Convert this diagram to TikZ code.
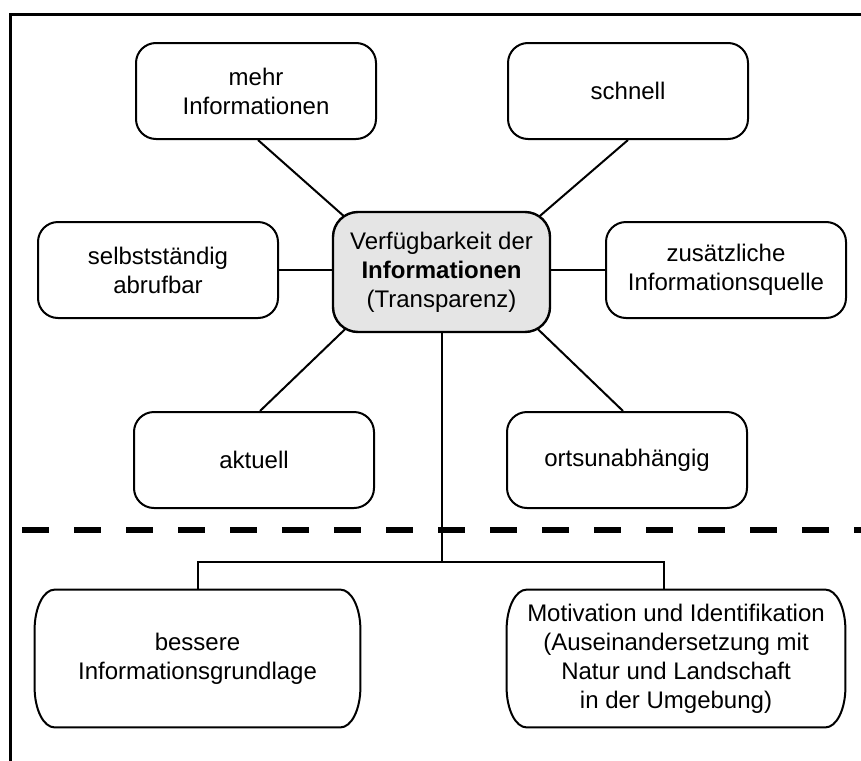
\documentclass[tikz,border=0pt]{standalone}
\usepackage{fontspec}
\setmainfont{Liberation Sans}
\usetikzlibrary{calc}
\usetikzlibrary{backgrounds}
\tikzset{txt/.style={font=\fontsize{12}{14.5}\selectfont, align=center, inner sep=0pt}}
\tikzset{pill/.style={txt, draw, line width=1pt, rounded corners=10pt, fill=white, minimum width=120pt, minimum height=48pt}}
\tikzset{hub/.style={txt, draw, line width=1.2pt, rounded corners=12.5pt, fill=gray!20, minimum width=108.5pt, minimum height=60pt}}
\tikzset{oval/.style={txt, fill=white, minimum height=68.5pt}}
\tikzset{link/.style={line width=1pt}}
\newcommand\ovalframe[1]{%
  \draw[line width=1pt] ([xshift=10pt]#1.north west) -- ([xshift=-10pt]#1.north east)
    arc[start angle=90, end angle=0, x radius=10pt, y radius=20pt]
    -- ([yshift=20pt]#1.south east)
    arc[start angle=0, end angle=-90, x radius=10pt, y radius=20pt]
    -- ([xshift=10pt]#1.south west)
    arc[start angle=270, end angle=180, x radius=10pt, y radius=20pt]
    -- ([yshift=-20pt]#1.north west)
    arc[start angle=180, end angle=90, x radius=10pt, y radius=20pt] -- cycle;}

\begin{document}
\begin{tikzpicture}[x=0.5pt, y=-0.5pt]
    \useasboundingbox (0, 0) rectangle (861, 760);
    \clip (0, 0) rectangle (861, 760);
    % frame, cut off at right and bottom
    \draw[line width=1.5pt] (10.5, 800)--(10.5, 14)--(900, 14);
    \node[hub] (ctr) at (441.5, 272) {Verfügbarkeit der\\\textbf{Informationen}\\(Transparenz)};
    \node[pill] (mehr) at (256, 91) {mehr\\Informationen};
    \node[pill] (schnell) at (628, 91) {schnell};
    \node[pill] (selbst) at (158, 270) {selbstständig\\abrufbar};
    \node[pill] (quelle) at (726, 270) {zusätzliche\\Informationsquelle};
    \node[pill] (aktuell) at (254, 460) {aktuell};
    \node[pill] (orts) at (627, 460) {ortsunabhängig};
    \node[oval, minimum width=162.5pt] (basis) at (197.5, 658.5) {bessere\\Informationsgrundlage};
    \node[oval, minimum width=169pt] (motiv) at (676, 658.5) {Motivation und Identifikation\\(Auseinandersetzung mit\\Natur und Landschaft\\in der Umgebung)};
    \ovalframe{basis}
    \ovalframe{motiv}
    \begin{scope}[on background layer]
        \draw[link] ($(mehr.south)+(2, 0)$)--($(ctr.north west)+(32, 23)$);
        \draw[link] (schnell.south)--($(ctr.north east)+(-32, 23)$);
        \draw[link] ($(aktuell.north)+(6, 0)$)--($(ctr.south west)+(32, -22)$);
        \draw[link] ($(orts.north)+(-4, 0)$)--($(ctr.south east)+(-32, -22)$);
        \draw[link] (selbst.east)--(selbst.east -| ctr.west);
        \draw[link] (quelle.west)--(quelle.west -| ctr.east);
    \end{scope}
    % split below the dashed line
    \coordinate (fork) at ($(ctr.south |- basis.north)+(0, -28)$);
    \draw[link] (ctr.south)--(fork);
    \draw[link] (basis.north) |- (fork) -| ($(motiv.north)+(-12, 0)$);
    \draw[line width=3pt, dash pattern=on 13.5pt off 12.5pt] (22, 530)--(900, 530);
\end{tikzpicture}
\end{document}
